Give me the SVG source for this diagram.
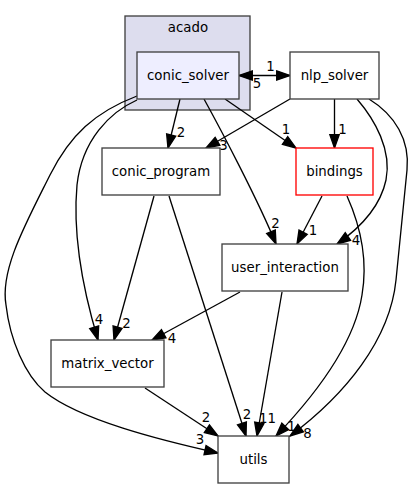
<svg xmlns="http://www.w3.org/2000/svg" width="417" height="489" viewBox="0 0 417 489">
<style>
text{font-family:"DejaVu Sans","Liberation Sans",sans-serif;font-size:13.33px;fill:#000;text-anchor:middle}
.node rect{fill:#fff;stroke:#404040;stroke-width:1.33}
.edge path{fill:none;stroke:#000;stroke-width:1.33;marker-end:url(#ah)}
</style>
<defs>
<marker id="ah" markerUnits="userSpaceOnUse" markerWidth="16" markerHeight="12" refX="13.3" refY="4.67" orient="auto-start-reverse" style="overflow:visible">
<path d="M0,0 L13.3,4.67 L0,9.33 z" fill="#000" stroke="#000" stroke-width="1.33"/>
</marker>
</defs>
<rect width="417" height="489" fill="#fff"/>
<g id="clust_acado">
<rect x="125" y="16" width="125" height="94" fill="#ddddee" stroke="#404040" stroke-width="1.33"/>
<text x="188" y="31.5">acado</text>
</g>
<g id="edges" class="edge">
<path d="M239,75.5 L290,75.5" style="marker-start:url(#ah)"/>
<path d="M180,99 L168,148"/>
<path d="M290,99 L206,148"/>
<path d="M225,99 L296,148"/>
<path d="M334.5,99 L334.5,148"/>
<path d="M204,99 C220,128 258,200 276,244"/>
<path d="M322,196 L297,244"/>
<path d="M357,99 C375,120 392,150 386,180 C380,208 360,228 337,244"/>
<path d="M137,100 C110,112 82,140 77,185 C72,240 86,300 98,340"/>
<path d="M154,196 L114,340"/>
<path d="M240,292 L152,340"/>
<path d="M137,96 C95,112 70,135 50,175 C25,225 0,270 6,305 C10,340 25,375 45,392 C80,420 160,440 218,453"/>
<path d="M145,388 L218,436"/>
<path d="M169,196 L246,436"/>
<path d="M282,292 L257,436"/>
<path d="M347,196 C360,225 368,260 362,295 C355,340 320,390 276,436"/>
<path d="M369,99 C395,115 410,140 407,170 C404,200 400,240 396,280 C390,340 345,395 290,436"/>
<text x="270.5" y="70.5">1</text>
<text x="257" y="88">5</text>
<text x="181" y="137">2</text>
<text x="223.5" y="150">3</text>
<text x="286" y="134">1</text>
<text x="342.5" y="133.5">1</text>
<text x="275.5" y="227.5">2</text>
<text x="313" y="235">1</text>
<text x="356" y="244.5">4</text>
<text x="99" y="323.5">4</text>
<text x="126.5" y="328">2</text>
<text x="172" y="342.5">4</text>
<text x="200" y="444">3</text>
<text x="206" y="422">2</text>
<text x="247" y="419">2</text>
<text x="267.5" y="423">11</text>
<text x="291.5" y="430.5">1</text>
<text x="307.5" y="438">8</text>
</g>
<g id="node_conic_solver" class="node">
<rect x="137" y="52" width="102" height="47" style="fill:#eeeeff"/>
<text x="188" y="80">conic_solver</text>
</g>
<g id="node_nlp_solver" class="node">
<rect x="290" y="52" width="89" height="47"/>
<text x="334.5" y="80">nlp_solver</text>
</g>
<g id="node_conic_program" class="node">
<rect x="102" y="148" width="118" height="47"/>
<text x="161" y="176">conic_program</text>
</g>
<g id="node_bindings" class="node">
<rect x="296" y="148" width="77" height="47" style="stroke:#ff0000"/>
<text x="334.5" y="176">bindings</text>
</g>
<g id="node_user_interaction" class="node">
<rect x="222" y="244" width="126" height="47"/>
<text x="285" y="272">user_interaction</text>
</g>
<g id="node_matrix_vector" class="node">
<rect x="51" y="340" width="113" height="47"/>
<text x="107.5" y="368">matrix_vector</text>
</g>
<g id="node_utils" class="node">
<rect x="218" y="436" width="71" height="47"/>
<text x="253.5" y="464">utils</text>
</g>
</svg>
